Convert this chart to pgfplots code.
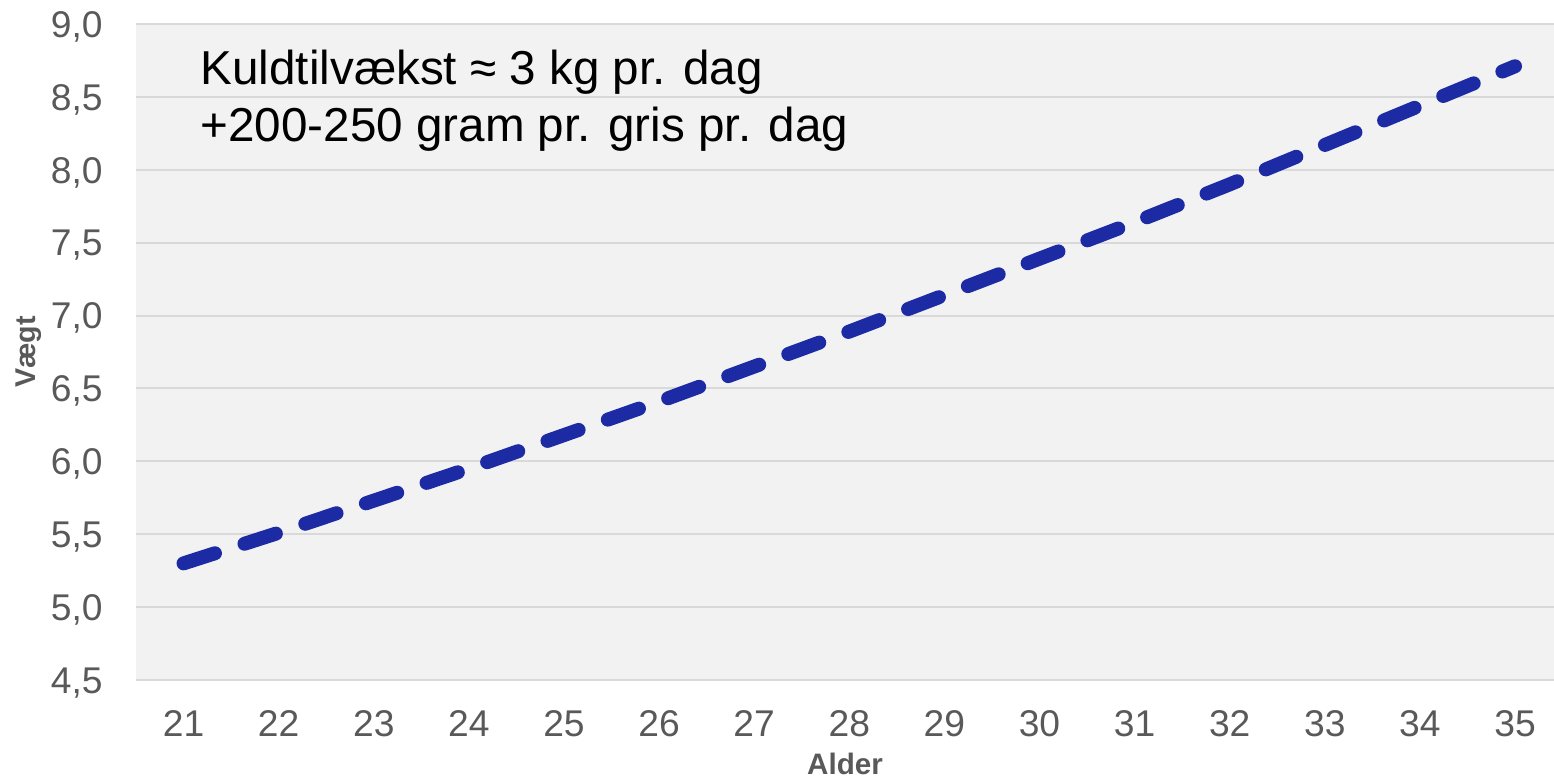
\documentclass[border=0pt]{standalone}
\usepackage{pgfplots}
\pgfplotsset{compat=1.18}
\usepackage{fontspec}
\setmainfont{Liberation Sans}
\definecolor{bgc}{RGB}{242,242,242}
\definecolor{gridc}{RGB}{217,217,217}
\definecolor{txtc}{RGB}{89,89,89}
\definecolor{linec}{RGB}{28,42,164}
\begin{document}
\begin{tikzpicture}
\begin{axis}[
  scale only axis,
  width=709pt, height=328pt,
  xmin=20.5, xmax=35.41,
  ymin=4.5, ymax=9.0,
  xtick={21,...,35},
  ytick={4.5,5,...,9},
  major tick length=0pt,
  axis line style={draw=none},
  axis background/.style={fill=bgc},
  ymajorgrids,
  major grid style={draw=gridc, line width=1pt},
  /pgf/number format/assume math mode=true,
  tick label style={font=\fontsize{18.6pt}{22pt}\selectfont, text=txtc, inner sep=0pt},
  yticklabel style={anchor=base east, xshift=-16.5pt, yshift=-6.66pt,
    /pgf/number format/fixed, /pgf/number format/fixed zerofill,
    /pgf/number format/precision=1, /pgf/number format/use comma},
  xticklabel style={anchor=base, yshift=-28.3pt},
  xlabel={Alder},
  xlabel style={at={(axis description cs:0.5,0)}, anchor=base, yshift=-47.3pt, inner sep=0pt,
    font=\fontsize{14.8pt}{17pt}\selectfont\bfseries, text=txtc},
  clip=false,
]
\addplot[linec, line width=7pt, line cap=round, dash pattern=on 16.5pt off 15.5pt] coordinates {
  (21,5.30) (22,5.51) (23,5.73) (24,5.95) (25,6.18) (26,6.41) (27,6.65) (28,6.89)
  (29,7.14) (30,7.39) (31,7.64) (32,7.90) (33,8.17) (34,8.44) (35,8.71)
};
\node[rotate=90, anchor=base, inner sep=0pt, font=\fontsize{14.3pt}{17pt}\selectfont\bfseries, text=txtc]
  at ([xshift=-50pt]axis description cs:0,0.5) {Vægt};
\node[anchor=base west, inner sep=0pt, font=\fontsize{23.8pt}{28pt}\selectfont]
  at (axis cs:21.175,8.582) {Kuldtilvækst ≈ 3 kg pr. dag};
\node[anchor=base west, inner sep=0pt, font=\fontsize{23.8pt}{28pt}\selectfont]
  at (axis cs:21.175,8.193) {+200-250 gram pr. gris pr. dag};
\end{axis}
\pgfresetboundingbox
\path (-68pt,-49.5pt) rectangle (709pt,340pt);
\end{tikzpicture}
\end{document}
